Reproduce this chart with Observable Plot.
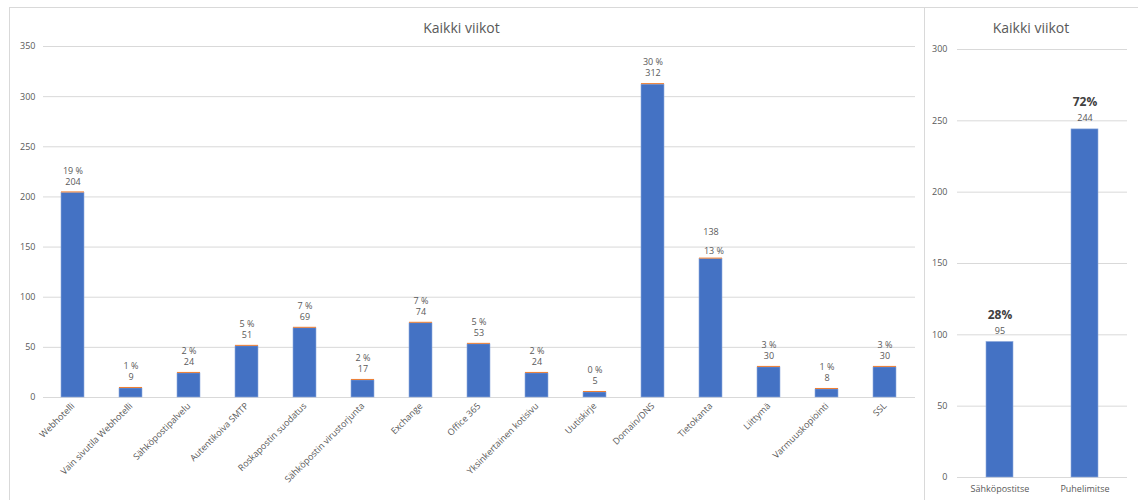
<!DOCTYPE html>
<html>
<head>
<meta charset="utf-8">
<script src="https://cdn.jsdelivr.net/npm/d3@7"></script>
<script src="https://cdn.jsdelivr.net/npm/@observablehq/plot@0.6"></script>
<style>
  html, body { margin: 0; padding: 0; background: #fff; }
  body { width: 1138px; height: 500px; position: relative; overflow: hidden; font-family: "Open Sans", "Noto Sans", sans-serif; }
  .panel { position: absolute; top: 7px; border: 1px solid #d9d9d9; background: #fff; }
  #left { left: 9px; width: 915px; height: 510px; }
  #right { left: 924px; width: 230px; height: 510px; }
  .title { position: absolute; top: 10px; width: 100%; text-align: center; font-size: 14px; color: #595959; }
  .chart { position: absolute; top: 0; left: 0; }
</style>
</head>
<body>
<div class="panel" id="left"><div class="title" style="left:-6px;">Kaikki viikot</div><div class="chart" id="chartLeft"></div></div>
<div class="panel" id="right"><div class="title" style="width:212px;">Kaikki viikot</div><div class="chart" id="chartRight"></div></div>
<script>
// Yhteydenotot palveluittain, kaikki viikot
const services = [
  "Webhotelli", "Vain sivutila Webhotelli", "Sähköpostipalvelu", "Autentikoiva SMTP",
  "Roskapostin suodatus", "Sähköpostin virustorjunta", "Exchange", "Office 365",
  "Yksinkertainen kotisivu", "Uutiskirje", "Domain/DNS", "Tietokanta",
  "Liittymä", "Varmuuskopiointi", "SSL"
];
const serviceCounts = [204, 9, 24, 51, 69, 17, 74, 53, 24, 5, 312, 138, 30, 8, 30];
const serviceShares = [19, 1, 2, 5, 7, 2, 7, 5, 2, 0, 30, 13, 3, 1, 3];
const serviceTicks = [0, 50, 100, 150, 200, 250, 300, 350];

// Yhteydenottotapa
const channels = ["Sähköpostitse", "Puhelimitse"];
const channelCounts = [95, 244];
const channelShares = [28, 72];
const channelTicks = [0, 50, 100, 150, 200, 250, 300];

const blue = "#4472C4";
const edge = "#8faadc";
const orange = "#ED7D31";
const grid = "#d9d9d9";
const textGrey = "#595959";
const font = "'Open Sans', 'Noto Sans', sans-serif";

// labels drawn with the share nearest the bar
const swapped = new Set(["Tietokanta"]);

const serviceRows = services.map((s, i) => ({s, n: serviceCounts[i], p: serviceShares[i]}));
const channelRows = channels.map((c, i) => ({c, n: channelCounts[i], p: channelShares[i]}));

const left = Plot.plot({
  width: 915, height: 489,
  marginTop: 38, marginBottom: 100, marginLeft: 33, marginRight: 10,
  style: {fontFamily: font, fontSize: "9px", color: textGrey, background: "transparent"},
  x: {domain: services, paddingInner: 0.6, paddingOuter: 0.3, label: null, tickRotate: -45, tickSize: 0, tickPadding: 7},
  y: {domain: [0, 350], ticks: serviceTicks, label: null, tickSize: 0, tickPadding: 8},
  marks: [
    Plot.ruleY(serviceTicks, {stroke: grid, strokeWidth: 1}),
    Plot.barY(serviceRows, {x: "s", y: "n", fill: blue, stroke: edge, strokeWidth: 0.6}),
    Plot.barY(serviceRows, {x: "s", y1: "n", y2: d => d.n + 1, fill: orange}),
    Plot.text(serviceRows, {x: "s", y: "n", text: d => String(d.n), dy: -11, fill: textGrey, fontSize: 9,
      filter: d => !swapped.has(d.s)}),
    Plot.text(serviceRows, {x: "s", y: "n", text: d => `${d.p} %`, dy: -22, fill: textGrey, fontSize: 9,
      filter: d => !swapped.has(d.s)}),
    Plot.text(serviceRows, {x: "s", y: "n", text: d => `${d.p} %`, dy: -8, dx: 3, fill: textGrey, fontSize: 9,
      filter: d => swapped.has(d.s)}),
    Plot.text(serviceRows, {x: "s", y: "n", text: d => String(d.n), dy: -27, fill: textGrey, fontSize: 9,
      filter: d => swapped.has(d.s)})
  ]
});
document.getElementById("chartLeft").appendChild(left);

const right = Plot.plot({
  width: 213, height: 492,
  marginTop: 41, marginBottom: 23, marginLeft: 32, marginRight: 11,
  style: {fontFamily: font, fontSize: "9px", color: textGrey, background: "transparent"},
  x: {domain: channels, paddingInner: 0.68, paddingOuter: 0.34, label: null, tickSize: 0, tickPadding: 8},
  y: {domain: [0, 300], ticks: channelTicks, label: null, tickSize: 0, tickPadding: 10},
  marks: [
    Plot.ruleY(channelTicks, {stroke: grid, strokeWidth: 1}),
    Plot.barY(channelRows, {x: "c", y: "n", fill: blue, stroke: edge, strokeWidth: 0.6}),
    Plot.text(channelRows, {x: "c", y: "n", text: d => String(d.n), dy: -11, fill: textGrey, fontSize: 9}),
    Plot.text(channelRows, {x: "c", y: "n", text: d => `${d.p}%`, dy: -27, fill: "#404040", fontSize: 12, fontWeight: "bold"})
  ]
});
document.getElementById("chartRight").appendChild(right);
</script>
</body>
</html>
